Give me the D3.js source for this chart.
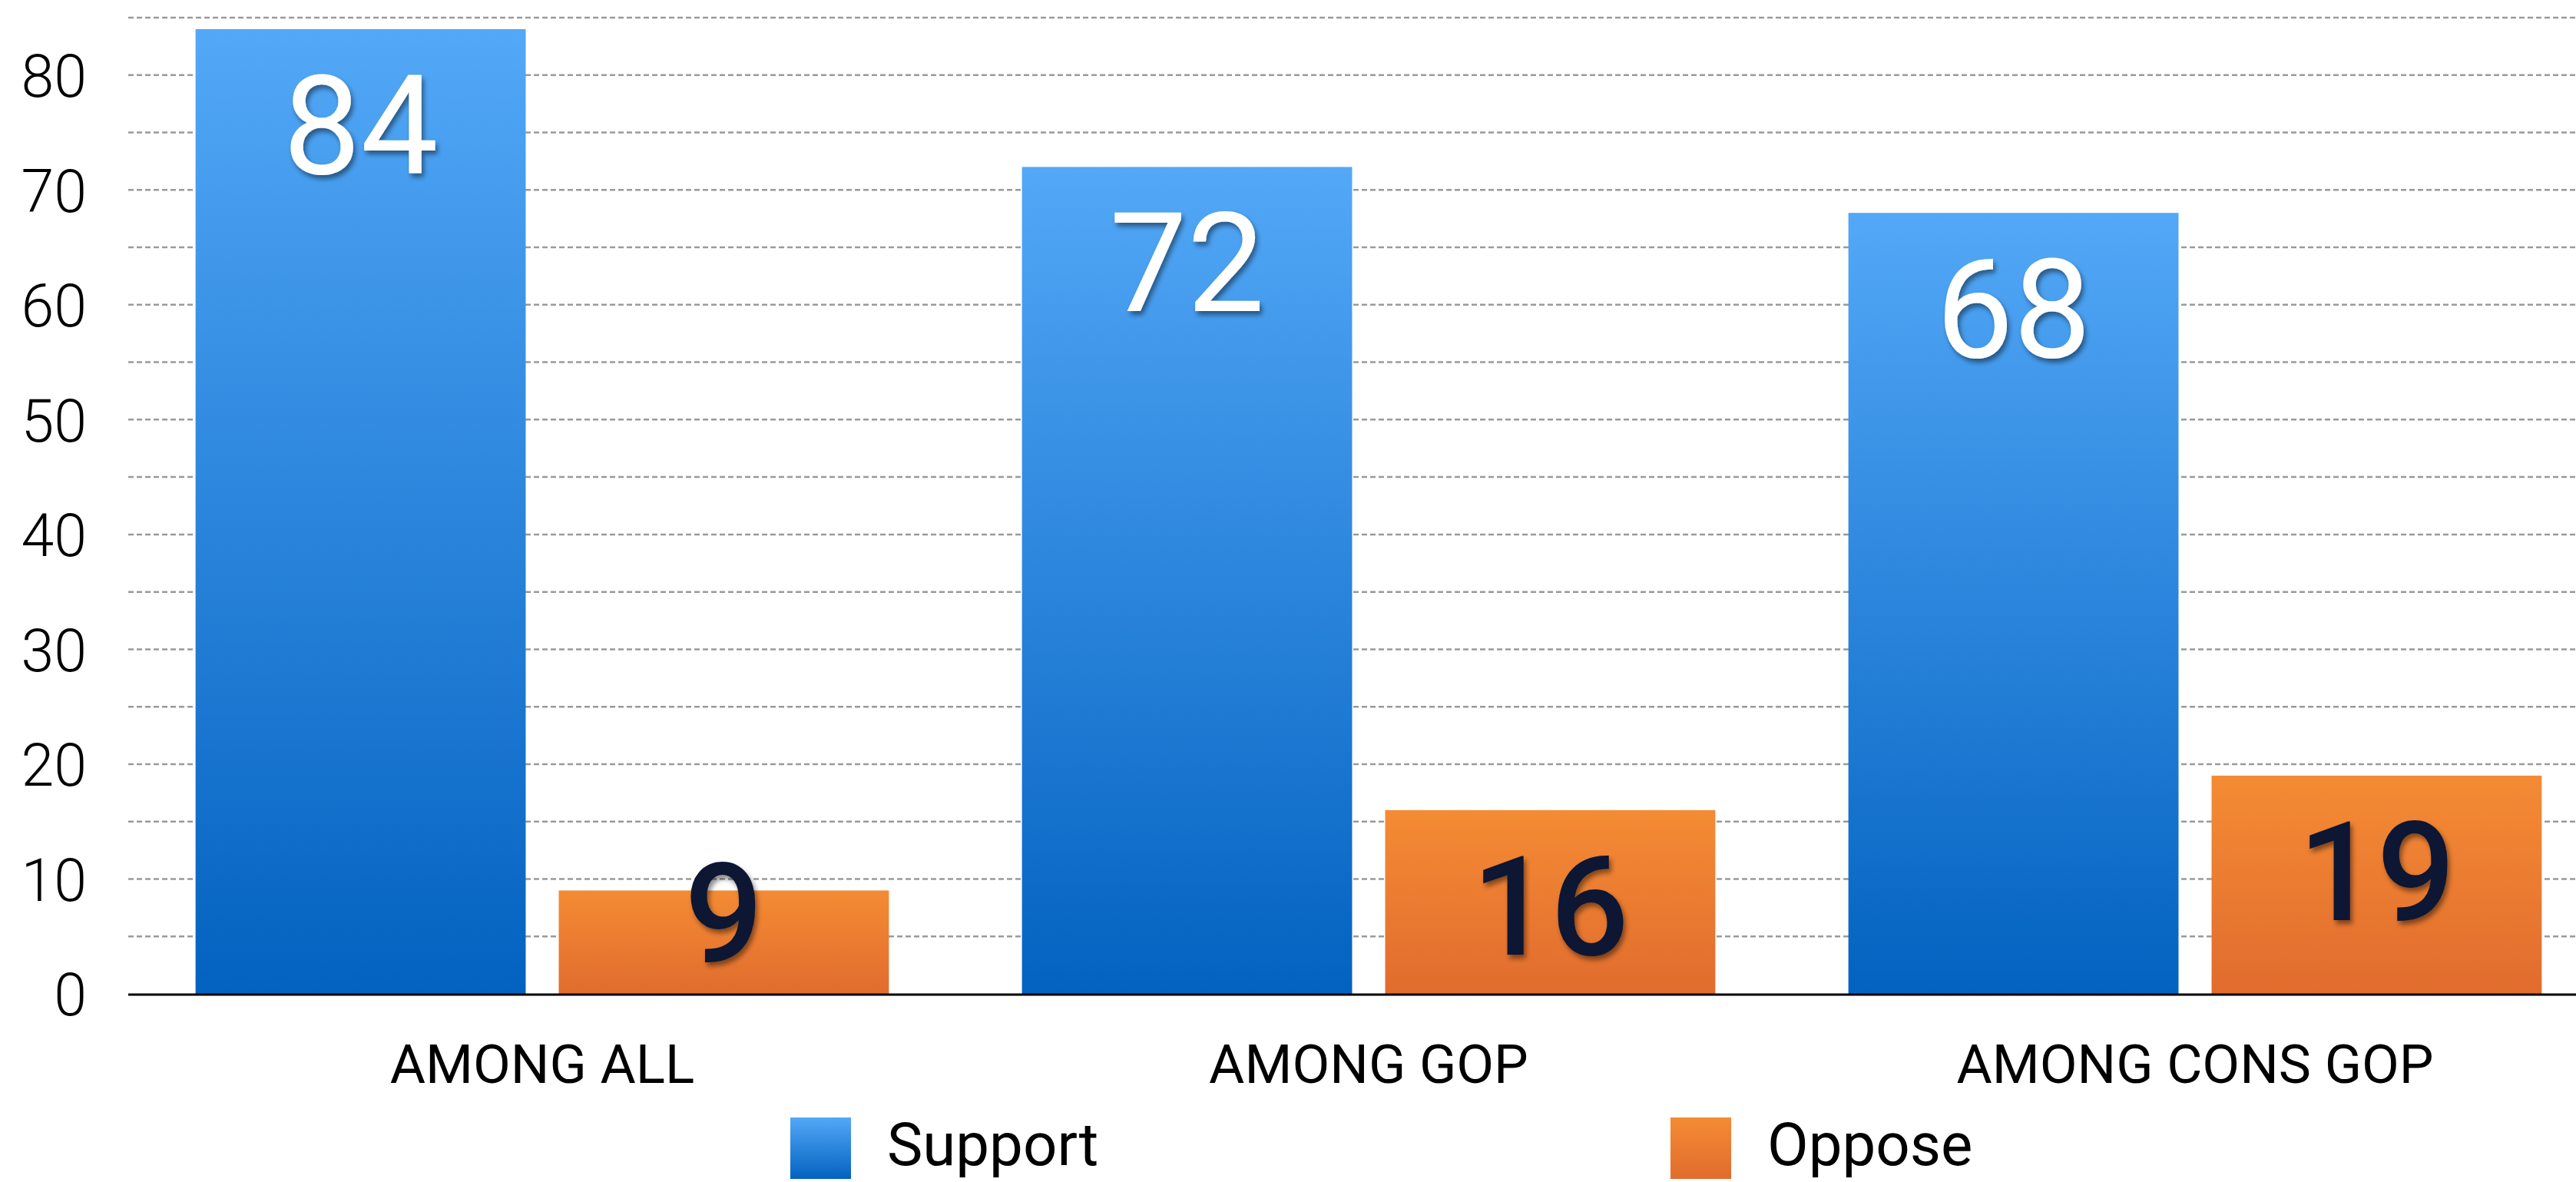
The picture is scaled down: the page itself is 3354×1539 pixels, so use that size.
<!DOCTYPE html>
<html>
<head>
<meta charset="utf-8">
<script src="https://cdn.jsdelivr.net/npm/d3@7"></script>
<style>
  html, body { margin: 0; padding: 0; background: #fff; }
  svg { display: block; }
</style>
</head>
<body>
<svg id="chart" width="3354" height="1539"></svg>
<script>
const categories = ["AMONG ALL", "AMONG GOP", "AMONG CONS GOP"];
const seriesNames = ["Support", "Oppose"];
const supportValues = [84, 72, 68];
const opposeValues = [9, 16, 19];
const yTickValues = [0, 10, 20, 30, 40, 50, 60, 70, 80];
const gridValues = d3.range(5, 90, 5);

const W = 3354, H = 1539;
const svg = d3.select("#chart");

const y = d3.scaleLinear().domain([0, 85]).range([1294, 23]);
const x0 = d3.scaleBand().domain(categories).range([168, 3396])
  .paddingInner(0.161).paddingOuter(0.0805);
const x1 = d3.scaleBand().domain(seriesNames).range([0, x0.bandwidth()])
  .paddingInner(0.091);

const data = categories.map((c, i) => ({
  cat: c,
  vals: [
    { key: "Support", value: supportValues[i] },
    { key: "Oppose", value: opposeValues[i] }
  ]
}));

const defs = svg.append("defs");
function grad(id, top, bottom) {
  const g = defs.append("linearGradient").attr("id", id)
    .attr("x1", 0).attr("y1", 0).attr("x2", 0).attr("y2", 1);
  g.append("stop").attr("offset", "0%").attr("stop-color", top);
  g.append("stop").attr("offset", "100%").attr("stop-color", bottom);
}
grad("gSupport", "#53a8f7", "#0362c0");
grad("gOppose", "#f48b34", "#e16c2e");
const fill = { Support: "url(#gSupport)", Oppose: "url(#gOppose)" };

const f = defs.append("filter").attr("id", "shadow")
  .attr("x", "-20%").attr("y", "-20%").attr("width", "140%").attr("height", "140%");
f.append("feDropShadow").attr("dx", 3).attr("dy", 5).attr("stdDeviation", 3)
  .attr("flood-color", "#000").attr("flood-opacity", 0.45);

// gridlines
svg.append("g").selectAll("line").data(gridValues).join("line")
  .attr("x1", 167).attr("x2", W)
  .attr("y1", d => y(d)).attr("y2", d => y(d))
  .attr("stroke", "#9a9a9a").attr("stroke-width", 2.5)
  .attr("stroke-dasharray", "7,4");

// y axis labels
const yAxis = d3.axisLeft(y).tickValues(yTickValues).tickSize(0).tickPadding(0);
const ya = svg.append("g").attr("transform", "translate(113,0)").call(yAxis);
ya.select(".domain").remove();
ya.selectAll("text")
  .attr("font-family", "Roboto, 'Liberation Sans', sans-serif")
  .attr("font-weight", 300)
  .attr("font-size", 77)
  .attr("fill", "#000")
  .attr("dy", "0.36em")
  .attr("text-anchor", "end");

// bars
const groups = svg.append("g").selectAll("g").data(data).join("g")
  .attr("transform", d => `translate(${x0(d.cat)},0)`);

groups.selectAll("rect").data(d => d.vals).join("rect")
  .attr("x", d => x1(d.key))
  .attr("width", x1.bandwidth())
  .attr("y", d => y(d.value))
  .attr("height", d => y(0) - y(d.value))
  .attr("fill", d => fill[d.key]);

// value labels
groups.selectAll("text.val").data(d => d.vals).join("text")
  .attr("class", "val")
  .attr("x", d => x1(d.key) + x1.bandwidth() / 2)
  .attr("y", d => Math.min(y(d.value) + 188, y(0) - 42))
  .attr("text-anchor", "middle")
  .attr("font-family", "Roboto, 'Liberation Sans', sans-serif")
  .attr("font-size", 180)
  .attr("font-weight", d => d.key === "Support" ? 400 : 500)
  .attr("fill", d => d.key === "Support" ? "#ffffff" : "#0b1932")
  .attr("filter", "url(#shadow)")
  .text(d => d.value);

// baseline axis
svg.append("line")
  .attr("x1", 167).attr("x2", W)
  .attr("y1", y(0) + 1).attr("y2", y(0) + 1)
  .attr("stroke", "#000").attr("stroke-width", 3);

// category labels
const xAxis = d3.axisBottom(x0).tickSize(0).tickPadding(0);
const xa = svg.append("g").attr("transform", "translate(0,1410)").call(xAxis);
xa.select(".domain").remove();
xa.selectAll("text")
  .attr("font-family", "Roboto, 'Liberation Sans', sans-serif")
  .attr("font-size", 71)
  .attr("fill", "#000")
  .attr("dy", 0)
  .attr("y", 0);

// legend
const legendX = [1029, 2175];
const lg = svg.append("g").selectAll("g").data(seriesNames).join("g")
  .attr("transform", (d, i) => `translate(${legendX[i]},1455)`);
lg.append("rect").attr("width", 79).attr("height", 80).attr("fill", d => fill[d]);
lg.append("text")
  .attr("x", 126).attr("y", 62)
  .attr("font-family", "Roboto, 'Liberation Sans', sans-serif")
  .attr("font-size", 78)
  .attr("fill", "#000")
  .text(d => d);
</script>
</body>
</html>
